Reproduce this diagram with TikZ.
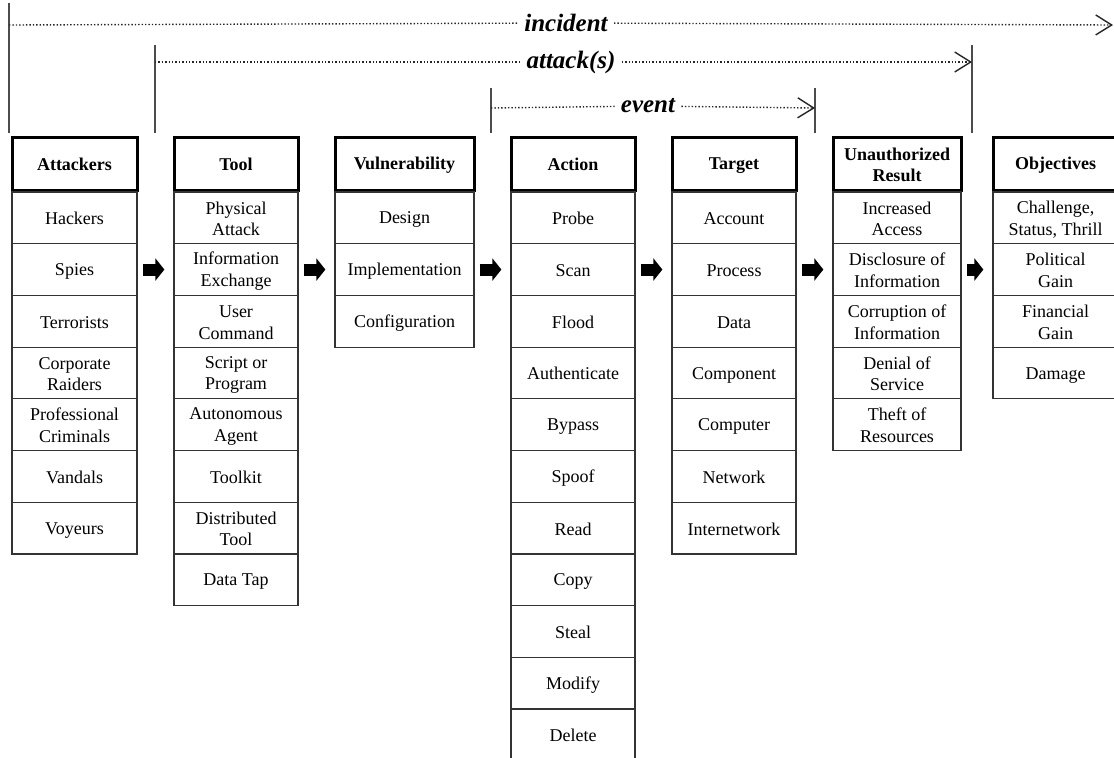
\documentclass[tikz,border=0pt]{standalone}
\usepackage{fontspec}
\setmainfont{Liberation Serif}
\usetikzlibrary{arrows.meta}
\newcommand\topfix{\rule{0pt}{8pt}}
\newcommand\botfix{\rule[-1pt]{0pt}{1pt}}
\begin{document}
\begin{tikzpicture}[x=0.5pt,y=-0.5pt,
 headbox/.style={draw,line width=1.5pt,minimum height=26.5pt,inner sep=1pt,align=center,font=\bfseries\fontsize{9}{10.5}\selectfont},
 itembox/.style={draw=black!80,line width=0.6pt,minimum height=25.85pt,inner sep=1pt,align=center,font=\fontsize{9}{10.8}\selectfont},
 bigarrow/.style={line width=6pt,-{Triangle[length=4.5pt,width=11pt]},shorten <=2.5pt,shorten >=4.5pt},
 spanline/.style={densely dotted,draw=black!85,line width=0.7pt},
 spantip/.style={-{Straight Barb[length=8pt,width=10pt]}},
 spanbar/.style={draw=black!70,line width=0.6pt},
 spanlabel/.style={inner sep=3pt,font=\bfseries\itshape\fontsize{12.5}{14}\selectfont}]
\useasboundingbox (0,0) rectangle (1114,757);
% columns
\foreach \n/\cx/\w/\hd/\lst in {
 A/74.5/125/Attackers/{Hackers,Spies,Terrorists,Corporate\\Raiders,Professional\\Criminals,Vandals,Voyeurs},
 T/236/124/Tool/{Physical\\Attack,Information\\Exchange,User\\Command,Script or\\Program,Autonomous\\Agent,Toolkit,Distributed\\Tool,Data Tap},
 V/404.5/139/Vulnerability/{Design,Implementation,Configuration},
 Ac/573/124/Action/{Probe,Scan,Flood,Authenticate,Bypass,Spoof,Read,Copy,Steal,Modify,Delete},
 Ta/734/124/Target/{Account,Process,Data,Component,Computer,Network,Internetwork},
 U/897/128/Unauthorized\\Result/{Increased\\Access,Disclosure of\\Information,Corruption of\\Information,Denial of\\Service,Theft of\\Resources},
 O/1055.5/125/Objectives/{Challenge{,}\\Status{,} Thrill,Political\\Gain,Financial\\Gain,Damage}}
{
\node[headbox,minimum width=\w*0.5pt] (\n0) at (\cx,163.5) {\topfix\hd\botfix};
\foreach \itm [count=\i] in \lst
  \node[itembox,minimum width=\w*0.5pt] (\n\i) at (\cx,{192+51.7*(\i-0.5)}) {\topfix\itm\botfix};
}
\foreach \p/\q in {A/T,T/V,V/Ac,Ac/Ta,Ta/U,U/O}
  \draw[bigarrow] (\p2.east) -- (\q2.west);

% incident / attack(s) / event
\coordinate (incT) at (9,3);
\coordinate (incL) at (9,25);
\coordinate (incB) at (9,133);
\coordinate (incR) at (1113,25);
\node[spanlabel] (inc) at (566,23) {incident};
\draw[spanbar] (incT) -- (incB);
\draw[spanline] (incL) -- (inc);
\draw[spanline,spantip] (inc) -- (incR);

\coordinate (attT) at (155,45);
\coordinate (attL) at (155,62);
\coordinate (attB) at (155,133);
\coordinate (attRT) at (972,45);
\coordinate (attR) at (972,62);
\coordinate (attRB) at (972,133);
\node[spanlabel] (att) at (571,62) {attack(s)};
\draw[spanbar] (attT) -- (attB) (attRT) -- (attRB);
\draw[spanline] (attL) -- (att);
\draw[spanline,spantip] (att) -- (attR);

\coordinate (evT) at (491,88);
\coordinate (evL) at (491,108);
\coordinate (evB) at (491,133);
\coordinate (evRT) at (815,88);
\coordinate (evR) at (815,108);
\coordinate (evRB) at (815,133);
\node[spanlabel] (ev) at (648,106) {event};
\draw[spanbar] (evT) -- (evB) (evRT) -- (evRB);
\draw[spanline] (evL) -- (ev);
\draw[spanline,spantip] (ev) -- (evR);
\end{tikzpicture}
\end{document}
